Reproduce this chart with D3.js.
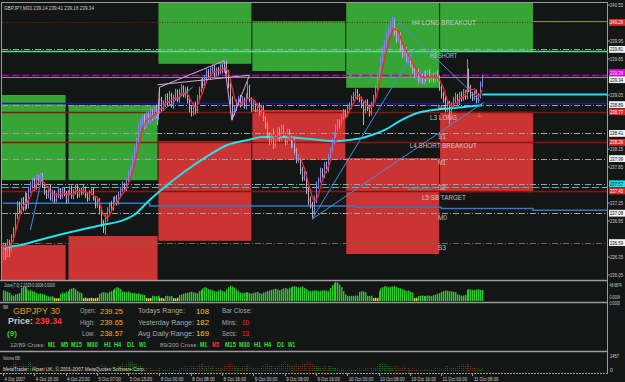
<!DOCTYPE html>
<html><head><meta charset="utf-8">
<script src="https://cdn.jsdelivr.net/npm/d3@7"></script>
<style>
html,body{margin:0;padding:0;background:#131614;}
svg{display:block;}
text{font-family:"Liberation Sans",Arial,sans-serif;}
</style></head><body>
<svg id="c" width="625" height="382"></svg>
<script>
// ---------------- DATA ----------------
const symbolTitle = "GBPJPY,M30  239.14 239.41 239.16 239.34";
// M30 closes, bar 0 = 4 Oct 07:00
const closes = [
236.55,236.47,236.60,236.50,236.67,236.80,237.05,237.22,237.13,237.30,
237.17,237.38,237.22,237.47,237.55,237.63,237.50,237.67,237.60,237.72,
237.55,237.43,237.38,237.50,237.33,237.43,237.30,237.38,237.47,237.37,
237.47,237.40,237.30,237.42,237.50,237.37,237.43,237.53,237.38,237.47,
237.43,237.50,237.38,237.33,237.43,237.47,237.33,237.22,237.30,237.13,
236.93,236.83,237.00,237.13,237.22,237.17,237.30,237.33,237.27,237.38,
237.47,237.55,237.50,237.63,237.72,237.83,237.97,238.13,238.30,238.50,
238.60,238.67,238.55,238.72,238.63,238.77,238.67,238.83,238.72,238.80,
238.97,238.83,238.90,239.03,238.93,239.05,238.88,239.00,239.10,238.97,
239.10,239.17,239.05,239.13,238.97,238.83,238.77,238.88,238.80,239.00,
239.13,239.27,239.22,239.33,239.43,239.37,239.47,239.50,239.40,239.47,
239.43,239.53,239.47,239.57,239.43,239.22,238.97,238.77,238.83,238.93,
239.00,238.90,238.97,238.87,239.03,239.17,238.97,238.83,238.90,238.80,
238.87,238.77,238.83,238.67,238.55,238.38,238.30,238.43,238.22,238.33,
238.47,238.33,238.50,238.38,238.27,238.43,238.33,238.22,238.30,238.13,
237.97,238.00,237.80,237.67,237.72,237.47,237.30,237.22,237.10,237.30,
237.55,237.63,237.77,237.72,237.88,237.80,238.00,238.13,238.27,238.38,
238.50,238.60,238.55,238.67,238.77,238.72,238.83,238.88,239.00,239.05,
239.10,239.03,238.97,238.88,238.80,238.93,238.83,238.77,238.90,239.00,
239.17,239.33,239.47,239.63,239.80,239.88,240.05,240.13,240.22,240.27,
240.10,239.97,240.05,239.83,239.72,239.80,239.63,239.67,239.55,239.47,
239.38,239.43,239.30,239.37,239.27,239.40,239.33,239.43,239.30,239.37,
239.30,239.40,239.33,239.17,239.05,238.97,238.83,238.90,238.77,238.87,
238.97,239.03,238.93,239.05,239.00,239.10,239.03,239.43,239.17,239.05,
239.00,239.10,238.97,239.03,239.22,239.34];
// wicks above max(open,close) and below min(open,close), in pips
const wickUp = [
4,3,5,4,6,5,4,6,5,4, 5,6,4,5,6,5,4,6,5,4, 3,5,4,3,5,4,3,4,5,3, 4,3,5,4,3,4,5,3,4,3,
4,5,3,4,3,5,4,3,4,3, 5,4,6,5,4,6,5,4,5,6, 5,6,4,5,6,5,7,6,5,8, 6,5,7,6,5,6,4,5,6,5,
21,5,6,4,5,7,4,6,5,4, 5,6,4,5,6,4,5,4,6,5, 6,5,7,5,6,5,4,6,5,4, 5,6,4,6,5,4,5,6,4,5,
4,5,6,4,5,10,5,4,6,5, 4,5,6,4,5,6,5,4,6,5, 5,4,6,5,4,6,5,4,5,6, 5,6,4,5,6,5,4,6,5,7,
6,5,7,6,5,6,7,5,6,5, 6,5,4,6,5,4,6,5,4,5, 6,5,4,5,6,4,5,6,4,5, 6,7,5,6,7,8,6,7,6,10,
8,6,7,5,6,7,5,6,5,6, 5,4,6,5,4,5,6,4,5,4, 5,4,6,5,4,5,6,4,5,6, 5,6,4,5,6,5,4,22,6,5,
5,6,4,5,6,5];
const wickDown = [
25,17,12,15,8,6,5,7,6,5, 6,5,7,6,5,6,5,4,6,5, 5,4,6,5,4,6,5,4,5,6, 5,4,6,5,4,5,6,4,5,4,
5,4,5,6,4,5,4,6,5,7, 8,8,11,6,5,6,5,4,6,5, 5,4,6,5,4,6,5,4,6,5, 6,5,7,6,5,6,5,4,6,8,
5,6,4,5,6,5,4,6,5,4, 5,6,4,5,6,7,8,6,7,5, 5,4,6,5,4,5,6,4,5,4, 5,4,6,5,4,6,8,14,6,5,
5,6,4,5,6,5,4,6,5,4, 5,6,4,5,6,7,8,6,7,5, 5,6,4,5,6,5,4,6,5,6, 6,5,7,6,5,7,8,6,12,6,
5,6,4,5,6,5,4,5,6,5, 4,5,6,4,5,6,4,5,6,5, 5,6,4,5,25,6,5,8,6,5, 5,4,5,4,5,4,5,4,5,4,
6,5,4,6,5,4,6,5,4,6, 5,4,6,5,4,5,6,4,5,4, 5,4,6,5,6,5,7,6,20,6, 5,6,4,5,6,5,6,5,7,6,
5,4,6,5,4,4];
// slow moving average (cyan) read at sample bars
const slowMaBars = [0,9,24,50,62,67,75,84,94,104,115,125,133,145,152,162,169,177,183,190,196,203,212,220,229,245];
const slowMaVals = [236.50,236.55,236.68,236.88,236.97,237.05,237.30,237.55,237.80,238.02,238.22,238.30,238.35,238.35,238.33,238.30,238.28,238.30,238.33,238.40,238.48,238.62,238.75,238.80,238.83,238.88];
const fastMaPeriod = 5;
// Juice indicator
const juice = [
32,30,28,25, 18,16,20,22,24, 40,45,44,38, 32,33,30,28, 24,22,23,21,20, 16,14,13,14, 9,8,9,
22,26,24,28,30, 36,38,40,35,30, 26,24, 9,10,8,9,10,8,9,10, 22,25,27,26,24,28, 30,34,38,42,40,36,
30,28,27,29,26,24,25, 22,24,21,20,18, 9,8,9, 16,15,14,16, 9,10,8, 15,16,14,15, 9,8,10,
18,20,22,24,25,27,28,26,25,24, 30,34,38,42,40,36,35,33, 30,28,32,34,30,28, 36,42,46,44,40,35,30,
26,24,25,27,26,24,22,25,26,28, 24,22,26,28,30, 32,34,36,38,35,33,36,38,40,37, 40,42,44,45,43,41,
42,44,40,36, 32,30,31,33,32,30,31,32,33,31,30, 40,48,54,58,56,50, 42,30,20,16,15, 16,15,17,16,
28,30,29,27, 16,15,16, 9,10,9, 30,38,42,45,44,42,43,44,45,42,40,38,36, 34,30,32,28,26, 9,10,
15,16,17,15,16,17,16,15, 18,20,22,24, 28,30,32,31,30,29,28,27, 20,18,16,17,19, 34,36,35,34,33,35,36,34,33];
const juiceTop = 48.6874;
const juiceThreshold = 11;
// Volumes, in hundreds
const volumes = [
6,5,8,7,9,12,14,10,8,9, 11,9,8,12,15,10,9,8,7,6, 5,6,4,5,6,4,3,5,4,5, 6,5,7,6,5,4,6,5,7,6,
4,3,4,5,3,4,5,6,7,9, 12,10,8,7,6,5,7,6,5,8, 9,11,10,12,14,16,15,13,12,10, 8,7,6,5,4,5,4,3,4,3,
5,4,3,2,3,4,3,2,3,2, 4,5,6,8,7,9,10,8,7,9, 11,13,12,10,9,8,7,8,6,7, 6,5,7,8,10,12,14,11,9,8,
7,6,8,9,11,10,8,7,6,5, 5,6,7,9,11,12,10,9,8,7, 8,10,12,14,15,13,11,9,8,10, 12,10,9,11,13,15,16,14,12,10,
9,8,7,6,8,7,9,8,7,6, 5,4,3,4,3,2,3,4,3,2, 3,4,5,4,3,4,5,6,5,4, 7,9,11,13,14,12,10,9,8,7,
8,9,7,6,8,7,6,5,4,5, 4,3,4,3,2,3,4,3,2,3, 4,5,6,5,4,6,8,9,7,6, 5,6,8,10,12,11,9,13,10,8,
7,6,5,4,3,6.56];
const volumeTop = 2457;
// time axis
const timeLabelBars = [0,16,32,48,64,80,96,112,128,144,160,176,192,208,224,240];
const timeLabels = ["4 Oct 2007","4 Oct 15:00","4 Oct 23:00","5 Oct 07:00","5 Oct 15:00","8 Oct 00:00","8 Oct 08:00","8 Oct 16:00","9 Oct 00:00","9 Oct 08:00","9 Oct 16:00","10 Oct 00:00","10 Oct 08:00","10 Oct 16:00","11 Oct 00:00","11 Oct 08:00"];
// price axis
const priceTicks = [240.55,239.95,239.65,239.05,238.15,237.85,237.25,236.95,236.35,236.05];
// daily zones
const dayFirstBar = [-10,34,80,128,176,224];
const dayLastBar  = [32,79,127,175,223,271];
const longZoneTop = [239.05,238.88,240.70,240.28,240.70,240.70];
const longZoneBot = [237.63,237.63,239.57,239.45,239.17,239.78];
const shortZoneTop = [236.55,236.70,238.28,238.80,238.00,238.77];
const shortZoneBot = [235.80,235.80,236.62,237.97,236.40,237.43];
// horizontal levels
const levelPrices = [240.26,239.81,239.78,239.39,239.35,238.92,238.89,238.77,238.41,238.26,237.99,237.57,237.51,237.45,237.08,236.59];
const levelKinds  = ["redDot","pivot","green","magenta","bid","navy","pivot","darkred","pivot","darkred","pivot","pivot","cyanDash","darkred","pivot","olive"];
const tagPrices = [240.26,239.81,239.39,239.34,238.89,238.77,238.41,238.26,237.99,237.57,237.45,237.08,236.59];
const tagKinds  = ["red","white","magenta","white","white","red","white","red","white","cyan","red","white","white"];
const greenRayPrice = 240.29, greenRayFrom = 271;
const cyanRayPrice = 239.06, cyanRayFrom = 245;
const stepLineBars = [0,75,75,180,180,224,224,271,271,320];
const stepLineVals = [237.245,237.245,237.20,237.20,237.18,237.18,237.16,237.16,237.13,237.13];
// trend lines [bar, price]
const blueLines = [
  [[158,236.98],[211,239.83]],
  [[199,240.37],[244,238.95]],
  [[158,236.98],[246,238.93]],
  [[69,238.47],[97,239.18]],
  [[14,236.80],[20,237.68]]
];
const lavenderLines = [
  [[79,239.22],[126,239.38]],
  [[79,238.55],[80,239.18],[113,239.62],[117,238.63],[126,239.38]]
];
// chart annotations [text, bar, price]
const notes = [
  ["H4 LONG BREAKOUT",209.1,240.21],["H3 SHORT",218.3,239.67],["M4",222.2,238.80],
  ["L3 LONG",218.3,238.64],["S1",222.4,238.31],["L4 SHORT BREAKOUT",208,238.16],
  ["M1",222.4,237.88],["S2",222.4,237.46],["L5 SB TARGET",214.2,237.305],
  ["M0",222.4,236.96],["S3",222.4,236.47]
];
const noteWidths = [64,27,8,27,8,67,8,8,44,9,8];

// ---------------- DRAW ----------------
const svg = d3.select("#c");
const L = 2, R = 607, T = 2, B = 280;
svg.append("rect").attr("width",625).attr("height",382).attr("fill","#131614");

const x = d3.scaleLinear().domain([0,240]).range([3,472.4]);
const y = d3.scaleLinear().domain([236.05,240.55]).range([275,5]);

svg.append("clipPath").attr("id","mainClip").append("rect").attr("x",L).attr("y",T).attr("width",R-L).attr("height",B-T);
const main = svg.append("g").attr("clip-path","url(#mainClip)");

// zones
const dayIdx = d3.range(dayFirstBar.length);
const boxX = i => Math.max(L, x(dayFirstBar[i]) - 1);
const boxW = i => x(dayLastBar[i]) - boxX(i);
main.selectAll("rect.long").data(dayIdx).join("rect").attr("class","long")
  .attr("x",boxX).attr("width",boxW)
  .attr("y",i=>y(longZoneTop[i])).attr("height",i=>y(longZoneBot[i])-y(longZoneTop[i]))
  .attr("fill","#36a536");
main.selectAll("rect.short").data(dayIdx).join("rect").attr("class","short")
  .attr("x",boxX).attr("width",boxW)
  .attr("y",i=>y(shortZoneTop[i])).attr("height",i=>y(shortZoneBot[i])-y(shortZoneTop[i]))
  .attr("fill","#cc3434");

// level lines
const lvlStyle = {
  redDot:{c:"#8c1414",w:1,d:"1,1.5"},
  pivot:{c:"#a0a0a0",w:1,d:"6,2,1,2"},
  green:{c:"#44eb8e",w:1.5,d:null},
  magenta:{c:"#b400b4",w:1.3,d:"7,3"},
  bid:{c:"#8c8c8c",w:1,d:null},
  navy:{c:"#1c1ca0",w:1.6,d:null},
  darkred:{c:"#8e1212",w:1.6,d:null},
  cyanDash:{c:"#2cc4c4",w:1.2,d:"7,3"},
  olive:{c:"#6e6a3c",w:1.2,d:"6,2,1,2"}
};
levelPrices.forEach((p,i)=>{
  const s = lvlStyle[levelKinds[i]];
  main.append("line").attr("x1",L).attr("x2",R).attr("y1",Math.round(y(p))+0.5).attr("y2",Math.round(y(p))+0.5)
    .attr("stroke",s.c).attr("stroke-width",s.w).attr("stroke-dasharray",s.d);
});
main.append("line").attr("x1",x(greenRayFrom)).attr("x2",R).attr("y1",Math.round(y(greenRayPrice))+0.5).attr("y2",Math.round(y(greenRayPrice))+0.5)
  .attr("stroke","#3ea83e").attr("stroke-width",1);
// stepped line
main.append("path").datum(d3.range(stepLineBars.length))
  .attr("d",d3.line().x(i=>x(stepLineBars[i])).y(i=>y(stepLineVals[i])))
  .attr("fill","none").attr("stroke","#3876c4").attr("stroke-width",1.5);

// slow MA (cyan)
main.append("path").datum(d3.range(slowMaBars.length))
  .attr("d",d3.line().curve(d3.curveMonotoneX).x(i=>x(slowMaBars[i])).y(i=>y(slowMaVals[i])))
  .attr("fill","none").attr("stroke","#22e2ec").attr("stroke-width",2);
main.append("line").attr("x1",x(cyanRayFrom)).attr("x2",R).attr("y1",y(cyanRayPrice)).attr("y2",y(cyanRayPrice))
  .attr("stroke","#22e2ec").attr("stroke-width",2);

// price bars
const N = Math.min(closes.length, wickUp.length, wickDown.length);
const bars = d3.range(N).map(i=>{
  const o = i===0 ? closes[0] : closes[i-1], c = closes[i];
  return {i,o,c,h:Math.max(o,c)+wickUp[i]/100,l:Math.min(o,c)-wickDown[i]/100};
});
main.selectAll("line.bar").data(bars).join("line").attr("class","bar")
  .attr("x1",d=>Math.round(x(d.i))+0.5).attr("x2",d=>Math.round(x(d.i))+0.5)
  .attr("y1",d=>y(d.h)).attr("y2",d=>y(d.l))
  .attr("stroke",d=>d.c>=d.o?"#8088dc":"#b4b4c0").attr("stroke-width",1);
main.selectAll("line.cl").data(bars).join("line").attr("class","cl")
  .attr("x1",d=>Math.round(x(d.i))+0.5).attr("x2",d=>Math.round(x(d.i))+1.5)
  .attr("y1",d=>y(d.c)).attr("y2",d=>y(d.c))
  .attr("stroke",d=>d.c>=d.o?"#8088dc":"#b4b4c0").attr("stroke-width",1);

// fast MA (red) computed from closes
const fastMa = bars.map(d=>d3.mean(closes.slice(Math.max(0,d.i-fastMaPeriod+1), d.i+1)));
main.append("path").datum(fastMa)
  .attr("d",d3.line().x((v,i)=>x(i)).y(v=>y(v)))
  .attr("fill","none").attr("stroke","#ff2424").attr("stroke-width",1.3);

// trend lines
const tl = d3.line().x(d=>x(d[0])).y(d=>y(d[1]));
main.selectAll("path.blue").data(blueLines).join("path").attr("class","blue")
  .attr("d",tl).attr("fill","none").attr("stroke","#3f8fe0").attr("stroke-width",1);
main.selectAll("path.lav").data(lavenderLines).join("path").attr("class","lav")
  .attr("d",tl).attr("fill","none").attr("stroke","#d8a8e0").attr("stroke-width",1);

// annotations
notes.forEach((n,k)=>{
  main.append("text").attr("x",x(n[1])).attr("y",y(n[2])).text(n[0])
    .attr("font-size",7).attr("fill","#d4d4d4").attr("opacity",0.9)
    .attr("textLength",noteWidths[k]).attr("lengthAdjust","spacingAndGlyphs");
});
main.append("text").attr("x",x(207)).attr("y",y(237.47)).text("WeeklyPivot")
  .attr("font-size",4.2).attr("fill","#3aa8a0").attr("textLength",24).attr("lengthAdjust","spacingAndGlyphs");
main.append("text").attr("x",x(242.8)).attr("y",y(238.68)).text("L")
  .attr("font-size",6).attr("fill","#f0a020");

// title
svg.append("text").attr("x",4).attr("y",9.5).text(symbolTitle).attr("font-size",5.6).attr("fill","#d0d0d0")
  .attr("textLength",90).attr("lengthAdjust","spacingAndGlyphs");

// frames / separators
const frame = svg.append("g").attr("stroke","#9a9a9a").attr("stroke-width",1);
frame.append("line").attr("x1",L).attr("x2",R).attr("y1",T+0.5).attr("y2",T+0.5);
frame.append("line").attr("x1",L-0.5).attr("x2",L-0.5).attr("y1",T).attr("y2",B);
[280.5,302.5,351.5].forEach(v=>frame.append("line").attr("x1",0).attr("x2",R).attr("y1",v).attr("y2",v).attr("stroke","#9c9c9c").attr("stroke-width",1.4));
frame.append("line").attr("x1",0).attr("x2",R).attr("y1",373.5).attr("y2",373.5).attr("stroke-dasharray","2,1");
frame.append("line").attr("x1",R+0.5).attr("x2",R+0.5).attr("y1",T).attr("y2",374);

// price axis ticks
const ax = svg.append("g");
priceTicks.forEach(p=>{
  ax.append("line").attr("x1",R).attr("x2",R+3).attr("y1",y(p)).attr("y2",y(p)).attr("stroke","#9a9a9a");
  ax.append("text").attr("x",610).attr("y",y(p)+2).text(p.toFixed(2)).attr("font-size",5.4).attr("fill","#cfcfcf")
    .attr("textLength",13).attr("lengthAdjust","spacingAndGlyphs");
});
// coloured price tags, nudged apart so they do not cover each other
const tagStyle = {red:["#d42a2a","#ffffff"],white:["#f4f4f4","#000000"],magenta:["#e000e0","#ffffff"],cyan:["#12e8ec","#000000"]};
const tagPos = tagPrices.map(p=>y(p));
for(let k=1;k<tagPos.length;k++){ if(tagPos[k]-tagPos[k-1]<7){ const mid=(tagPos[k]+tagPos[k-1])/2; tagPos[k-1]=mid-3.6; tagPos[k]=mid+3.6; } }
tagPrices.forEach((p,i)=>{
  const s = tagStyle[tagKinds[i]];
  const yy = tagPos[i];
  ax.append("rect").attr("x",R+2).attr("y",yy-3.4).attr("width",16).attr("height",6.8).attr("fill",s[0]);
  ax.append("text").attr("x",R+3).attr("y",yy+2).text(p.toFixed(2)).attr("font-size",5.2).attr("fill",s[1])
    .attr("textLength",13).attr("lengthAdjust","spacingAndGlyphs");
});

// Juice panel
const jy = d3.scaleLinear().domain([0,juiceTop]).range([301,285]);
svg.append("text").attr("x",4).attr("y",286.5).text("Juice(7,0) 2.2329 0.0008 0.0000").attr("font-size",5).attr("fill","#c8c8c8")
  .attr("textLength",51).attr("lengthAdjust","spacingAndGlyphs");
svg.selectAll("rect.juice").data(juice.slice(0,N)).join("rect").attr("class","juice")
  .attr("x",(v,i)=>Math.round(x(i))).attr("width",1.4)
  .attr("y",v=>jy(v)).attr("height",v=>jy(0)-jy(v))
  .attr("fill",v=>v<juiceThreshold?"#e6e600":"#2ecb2e");
[[juiceTop.toFixed(4),287],["0.0004",298.5],["0.0000",304.5]].forEach(t=>{
  svg.append("text").attr("x",609.5).attr("y",t[1]).text(t[0]).attr("font-size",4.6).attr("fill","#cfcfcf")
    .attr("textLength",t[0].length*1.75).attr("lengthAdjust","spacingAndGlyphs");
});

// Info panel
const info = svg.append("g");
function tx(s,xx,yy,size,color,len,bold){
  const t = info.append("text").attr("x",xx).attr("y",yy).text(s).attr("font-size",size).attr("fill",color);
  if(len) t.attr("textLength",len).attr("lengthAdjust","spacingAndGlyphs");
  if(bold) t.attr("font-weight","bold");
  return t;
}
tx("9M",3,309,4.5,"#c8c8c8",5);
tx("GBPJPY  30",13,313.5,8.5,"#e8961a",47);
tx("Price:",8,324,8.5,"#c8c8c8",25,true);
tx("239.34",35,324,8.5,"#ff3030",27,true);
tx("(9)",7,335.5,8,"#33d033",10,true);
tx("Open:",80,313,6.5,"#a8a8a8",16);
tx("239.25",100,313.5,7.5,"#f0b418",23);
tx("High:",80,324.5,6.5,"#a8a8a8",15);
tx("239.65",100,325,7.5,"#f0b418",23);
tx("Low:",82,335.5,6.5,"#a8a8a8",13);
tx("238.57",100,336,7.5,"#f0b418",23);
tx("Todays Range:",138,313,6.5,"#a8a8a8",47);
tx("108",196,313.5,7.5,"#f0c820",13);
tx("Yesterday Range:",138,324.5,6.5,"#a8a8a8",56);
tx("182",196,325,7.5,"#f0c820",13);
tx("Avg Daily Range:",138,335.5,6.5,"#a8a8a8",56);
tx("169",196,336,7.5,"#f0c820",13);
tx("Bar Close:",222,313,6.5,"#a8a8a8",30);
tx("Mins:",222,324.5,6.5,"#a8a8a8",15);
tx("10",242,325,7.5,"#ff2a2a",7);
tx("Secs:",222,335.5,6.5,"#a8a8a8",15);
tx("13",242,336,7.5,"#ff2a2a",7);
tx("12/89 Cross:",10,346.5,6,"#a8a8a8",35);
const tfNames = ["M1","M5","M15","M30","H1","H4","D1","W1"];
const tfX1 = [48,61,71,87,104,114,127,139];
const cross1 = [1,1,1,1,1,1,1,1];
const tfX2 = [200,212,225,239,254,264,277,288];
const cross2 = [1,0,1,1,1,1,1,1];
tfNames.forEach((n,i)=>{
  tx(n,tfX1[i],346.5,6.3,cross1[i]?"#2ee22e":"#ff2a2a",n.length*3.6,true);
  tx(n,tfX2[i],346.5,6.3,cross2[i]?"#2ee22e":"#ff2a2a",n.length*3.6,true);
});
tx("89/200 Cross:",160,346.5,6,"#a8a8a8",38);

// Volume panel
const vy = d3.scaleLinear().domain([0,volumeTop]).range([371,356]);
svg.selectAll("line.vol").data(bars).join("line").attr("class","vol")
  .attr("x1",d=>Math.round(x(d.i))+0.5).attr("x2",d=>Math.round(x(d.i))+0.5)
  .attr("y1",vy(0)).attr("y2",d=>vy((volumes[d.i]||0)*100))
  .attr("stroke",d=>d.c>=d.o?"#0d7a0d":"#9a1414").attr("stroke-width",1).attr("stroke-dasharray","1,1");
svg.append("text").attr("x",3).attr("y",359.5).text("Volumes 656").attr("font-size",4.8).attr("fill","#c8c8c8")
  .attr("textLength",17).attr("lengthAdjust","spacingAndGlyphs");
svg.append("text").attr("x",3).attr("y",370.5).text("MetaTrader - Alpari UK, \u00a9 2001-2007 MetaQuotes Software Corp.").attr("font-size",5).attr("fill","#d0d0d0")
  .attr("textLength",142).attr("lengthAdjust","spacingAndGlyphs");
svg.append("text").attr("x",610).attr("y",357.5).text(String(volumeTop)).attr("font-size",5).attr("fill","#cfcfcf")
  .attr("textLength",9).attr("lengthAdjust","spacingAndGlyphs");
svg.append("text").attr("x",610).attr("y",372).text("0").attr("font-size",5).attr("fill","#cfcfcf");

// time axis
timeLabelBars.forEach((b,i)=>{
  const xx = x(b);
  svg.append("line").attr("x1",Math.round(xx)+0.5).attr("x2",Math.round(xx)+0.5).attr("y1",373).attr("y2",376).attr("stroke","#9a9a9a");
  svg.append("text").attr("x",xx+1.5).attr("y",380.5).text(timeLabels[i]).attr("font-size",5.6).attr("fill","#cfcfcf")
    .attr("textLength",timeLabels[i].length*2.05).attr("lengthAdjust","spacingAndGlyphs");
});
</script>
</body></html>
